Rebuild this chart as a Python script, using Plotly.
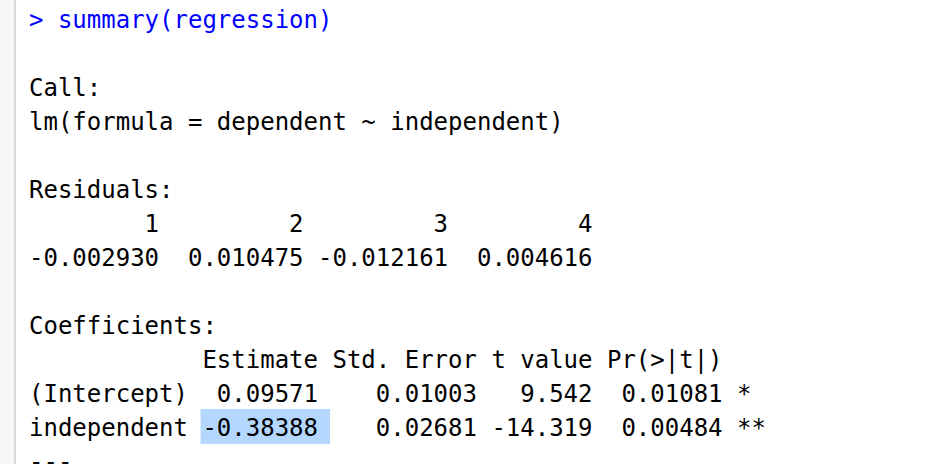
import plotly.graph_objects as go

# ---- R console output, as data ----
prompt_line = "> summary(regression)"
call_line = "lm(formula = dependent ~ independent)"

residual_ids = [1, 2, 3, 4]
residual_values = [-0.002930, 0.010475, -0.012161, 0.004616]

coef_names = ["(Intercept)", "independent"]
estimates = [0.09571, -0.38388]
std_errors = [0.01003, 0.02681]
t_values = [9.542, -14.319]
p_values = [0.01081, 0.00484]
signif_codes = ["*", "**"]

coef_header = ["Estimate", "Std. Error", "t value", "Pr(>|t|)"]

# ---- look ----
FONT = "DejaVu Sans Mono"
FONT_SIZE = 24
CHAR_W = 14.38        # advance of one monospace char at 24px
LINE_H = 34
TOP = 19.5
LEFT = 27
TEXT_COLOR = "#000000"
PROMPT_COLOR = "#0000ff"
HILITE = "#b3d7ff"

# ---- build the text lines like R prints them ----
name_w = max(len(n) for n in coef_names)
w_est, w_se, w_t, w_p = [len(h) for h in coef_header]

resid_labels = "".join(f"{i:>9} " for i in residual_ids).rstrip()
resid_line = " ".join(f"{v:>9.6f}" for v in residual_values)

header = " " * (name_w + 1) + " ".join(coef_header)
coef_lines = []
for n, e, s, t, p, c in zip(coef_names, estimates, std_errors, t_values, p_values, signif_codes):
    coef_lines.append(
        f"{n:<{name_w}} {e:>{w_est}.5f} {s:>{w_se}.5f} {t:>{w_t}.3f} {p:>{w_p}.5f} {c}"
    )

lines = [
    (prompt_line, PROMPT_COLOR),
    ("", TEXT_COLOR),
    ("Call:", TEXT_COLOR),
    (call_line, TEXT_COLOR),
    ("", TEXT_COLOR),
    ("Residuals:", TEXT_COLOR),
    (resid_labels, TEXT_COLOR),
    (resid_line, TEXT_COLOR),
    ("", TEXT_COLOR),
    ("Coefficients:", TEXT_COLOR),
    (header, TEXT_COLOR),
    (coef_lines[0], TEXT_COLOR),
    (coef_lines[1], TEXT_COLOR),
    ("---", TEXT_COLOR),
]

fig = go.Figure()

annotations = []
for i, (txt, col) in enumerate(lines):
    if not txt:
        continue
    annotations.append(dict(
        x=LEFT, y=TOP + i * LINE_H, xref="x", yref="y",
        text=txt.replace(" ", "\u00a0"),
        showarrow=False, xanchor="left", yanchor="middle",
        font=dict(family=FONT, size=FONT_SIZE, color=col),
    ))

# selection highlight behind the 'independent' estimate
hl_row = 12
hl_start = name_w + 1
hl_end = hl_start + w_est + 1
shapes = [
    # gutter
    dict(type="rect", x0=0, x1=14, y0=0, y1=464, xref="x", yref="y",
         fillcolor="#f6f6f8", line_width=0, layer="below"),
    dict(type="line", x0=15, x1=15, y0=0, y1=464, xref="x", yref="y",
         line=dict(color="#d8d8dc", width=2)),
    dict(type="rect",
         x0=LEFT + 1 + hl_start * CHAR_W, x1=LEFT + 1 + hl_end * CHAR_W,
         y0=409, y1=444,
         xref="x", yref="y", fillcolor=HILITE, line_width=0, layer="below"),
]

fig.update_layout(
    width=952, height=464,
    margin=dict(l=0, r=0, t=0, b=0),
    paper_bgcolor="white", plot_bgcolor="white",
    xaxis=dict(range=[0, 952], visible=False, fixedrange=True),
    yaxis=dict(range=[464, 0], visible=False, fixedrange=True),
    annotations=annotations,
    shapes=shapes,
    showlegend=False,
)

# browser default body margin would shift everything by 8px
fig.write_html("out.html", config={"displayModeBar": False},
               post_script="document.body.style.margin='0px';")
